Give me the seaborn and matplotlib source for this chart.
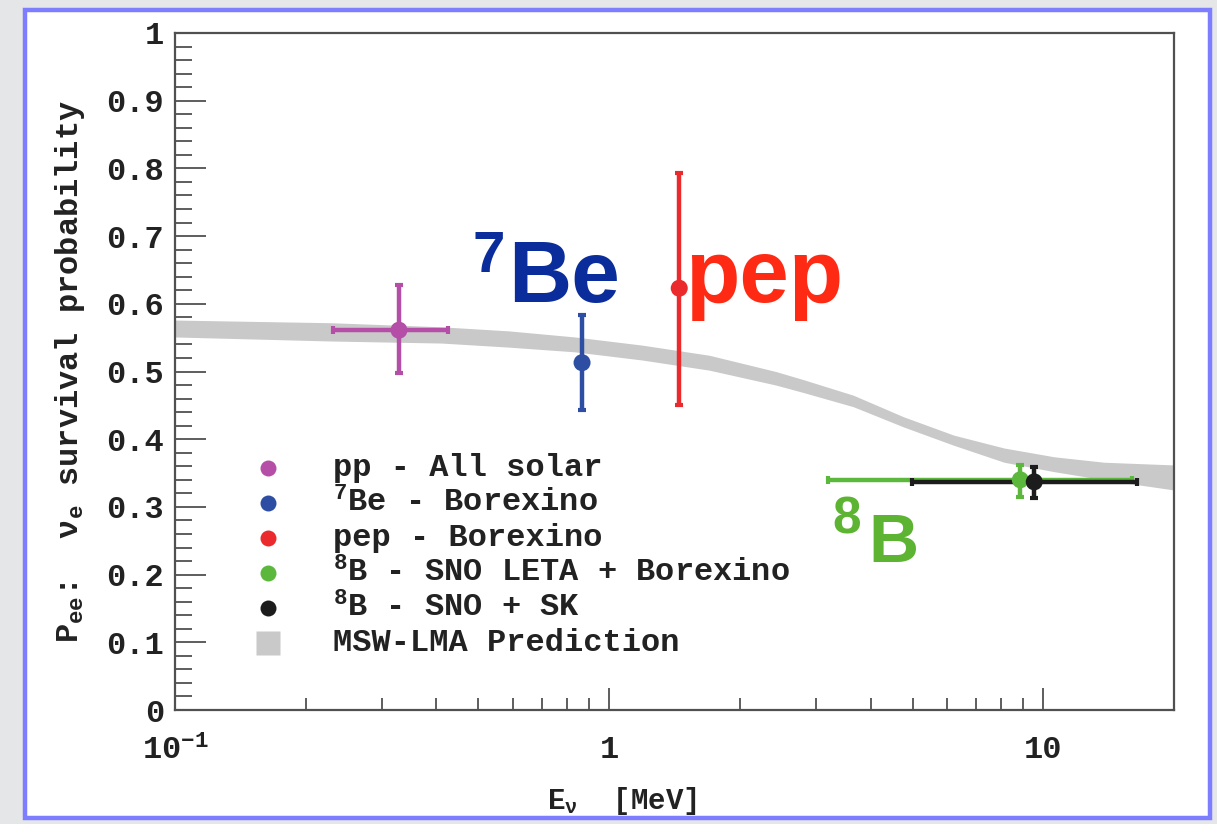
import numpy as np
import matplotlib
matplotlib.use("Agg")
import matplotlib.pyplot as plt
import seaborn as sns
from matplotlib.patches import Rectangle
from matplotlib.ticker import FixedLocator, FixedFormatter

# data
sources = ["pp", "7Be", "pep", "8B_leta", "8B_snosk"]
energy = [0.328, 0.866, 1.45, 8.85, 9.53]
energy_lo = [0.231, 0.866, 1.45, 3.2, 4.97]
energy_hi = [0.426, 0.866, 1.45, 16.0, 16.4]
pee = [0.561, 0.513, 0.623, 0.340, 0.337]
pee_lo = [0.498, 0.443, 0.450, 0.315, 0.313]
pee_hi = [0.628, 0.583, 0.793, 0.362, 0.359]
colors = ["#b44ea6", "#2e4ea3", "#ea2a2c", "#5cb83c", "#1c1c1c"]
legend_labels = ["pp - All solar", r"$^{7}$Be - Borexino", "pep - Borexino",
                 r"$^{8}$B - SNO LETA + Borexino", r"$^{8}$B - SNO + SK",
                 "MSW-LMA Prediction"]

# MSW-LMA band edges
band_e = [0.1, 0.23, 0.411, 0.587, 0.834, 1.19, 1.70, 2.42, 2.80, 3.65, 4.77,
          6.22, 8.12, 10.6, 13.8, 20.0]
band_hi = [0.576, 0.572, 0.566, 0.560, 0.551, 0.539, 0.524, 0.500, 0.488, 0.465,
           0.433, 0.406, 0.387, 0.374, 0.366, 0.362]
band_lo = [0.551, 0.545, 0.542, 0.536, 0.529, 0.517, 0.502, 0.480, 0.469, 0.448,
           0.418, 0.391, 0.366, 0.352, 0.340, 0.325]

sns.set_theme(style="white")
plt.rcParams["font.family"] = ["Liberation Mono", "DejaVu Sans"]
plt.rcParams["font.weight"] = "bold"
plt.rcParams["mathtext.fontset"] = "custom"
plt.rcParams["mathtext.rm"] = "Liberation Mono:bold"
plt.rcParams["mathtext.it"] = "Liberation Mono:bold"
plt.rcParams["mathtext.bf"] = "Liberation Mono:bold"

fig = plt.figure(figsize=(12.17, 8.24), dpi=100, facecolor="#e5e6e8")
fig.patches.append(Rectangle((0.0205, 0.0073), 0.9737, 0.9806, transform=fig.transFigure,
                             facecolor="white", edgecolor="#7d7dff", lw=3.2, zorder=-10))
ax = fig.add_axes([0.1438, 0.1383, 0.8209, 0.8217])
ax.set_facecolor("white")

ax.fill_between(band_e, band_lo, band_hi, color="#c9c9c9", lw=0, zorder=1)

for i in range(len(sources)):
    xerr = [[energy[i] - energy_lo[i]], [energy_hi[i] - energy[i]]]
    yerr = [[pee[i] - pee_lo[i]], [pee_hi[i] - pee[i]]]
    ax.errorbar([energy[i]], [pee[i]], xerr=xerr, yerr=yerr, fmt="none",
                ecolor=colors[i], elinewidth=3.2, capsize=3, capthick=3, zorder=3 + i)
sns.scatterplot(x=energy, y=pee, hue=sources, palette=colors, s=150, edgecolor="none",
                legend=False, ax=ax, zorder=10)

ax.set_xscale("log")
ax.set_xlim(0.1, 20)
ax.set_ylim(0, 1)

ax.xaxis.set_major_locator(FixedLocator([0.1, 1, 10]))
ax.xaxis.set_major_formatter(FixedFormatter([r"10$^{-1}$", "1", "10"]))
minor_x = [m * d for d in [0.1, 1, 10] for m in range(2, 10) if m * d < 20]
ax.xaxis.set_minor_locator(FixedLocator(minor_x))
ax.xaxis.set_minor_formatter(FixedFormatter([""] * len(minor_x)))
yt = [i / 10 for i in range(11)]
ax.yaxis.set_major_locator(FixedLocator(yt))
ax.yaxis.set_major_formatter(FixedFormatter(["0"] + [f"{v:.1f}" for v in yt[1:-1]] + ["1"]))
ax.yaxis.set_minor_locator(FixedLocator([i / 50 for i in range(51)]))

for s in ax.spines.values():
    s.set_color("#505050")
    s.set_linewidth(1.6)
ax.tick_params(axis="both", which="both", direction="in", color="#505050",
               left=True, bottom=True, top=False, right=False,
               labelsize=23, labelcolor="#222222")
ax.tick_params(axis="y", which="major", length=22, width=1.3, pad=8)
ax.tick_params(axis="y", which="minor", length=12, width=1.3)
ax.tick_params(axis="x", which="major", length=16, width=1.3, pad=18)
ax.tick_params(axis="x", which="minor", length=8.5, width=1.3)

ax.set_ylabel(r"P$_{ee}$:  $\nu_{e}$ survival probability", fontsize=23,
              fontweight="bold", color="#222222")
ax.yaxis.set_label_coords(-0.088, 0.5)
ax.set_xlabel(r"E$_{\nu}$  [MeV]", fontsize=21, fontweight="bold", color="#222222")
ax.xaxis.set_label_coords(0.447, -0.111)

# legend drawn by hand
rows_y = [0.357, 0.306, 0.254, 0.202, 0.151, 0.099]
for k, lab in enumerate(legend_labels):
    if k < len(colors):
        ax.plot([0.093], [rows_y[k]], "o", ms=11.5, color=colors[k], mec="none",
                transform=ax.transAxes, clip_on=False)
    else:
        ax.plot([0.093], [rows_y[k]], "s", ms=17, color="#c9c9c9", mec="none",
                transform=ax.transAxes, clip_on=False)
    ax.text(0.158, rows_y[k], lab, transform=ax.transAxes, fontsize=23,
            va="center", ha="left", color="#222222")

# big source labels
big = dict(family=["Liberation Sans", "DejaVu Sans"], fontweight="bold",
           transform=ax.transAxes, va="baseline", ha="left")
ax.text(0.298, 0.647, "7", fontsize=42, color="#0a2d9b", **big)
ax.text(0.333, 0.603, "Be", fontsize=63, color="#0a2d9b", **big)
ax.text(0.511, 0.603, "pep", fontsize=64, color="#ff2a14", **big)
ax.text(0.658, 0.261, "8", fontsize=37, color="#5cb432", **big)
ax.text(0.694, 0.219, "B", fontsize=50, color="#5cb432", **big)

fig.savefig("out.png", dpi=100, facecolor=fig.get_facecolor())
